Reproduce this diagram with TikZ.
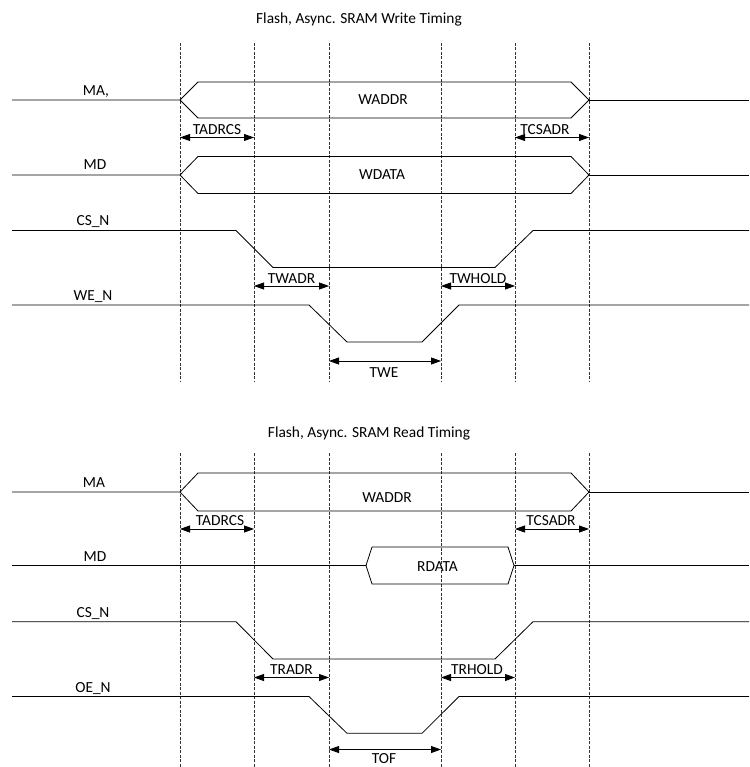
\documentclass[tikz,border=0pt]{standalone}
\usepackage{fontspec}
\setmainfont{Carlito}
\usetikzlibrary{arrows.meta}
\tikzset{
	sig/.style={line width=0.8pt},
	grid/.style={black!80, line width=0.6pt, dash pattern=on 3pt off 1.5pt},
	dim/.style={line width=0.8pt, {Triangle[length=10pt,width=7pt]}-{Triangle[length=10pt,width=7pt]}},
	lbl/.style={font=\fontsize{15.4}{18}\selectfont, inner sep=0pt, anchor=base},
}
\begin{document}
\begin{tikzpicture}[x=1pt, y=-1pt]
	\useasboundingbox (0,0) rectangle (749,767);
	% write timing
	\node[lbl] (wtitle) at (359,24) {Flash, Async. SRAM Write Timing};
	\foreach \x in {180,254,329,441,515,589}
		\draw[grid] (\x,43) -- (\x,381);
	\draw[sig] (12,100) -- (180,100) -- (198,82) -- (571,82) -- (589,100) -- (571,118) -- (198,118) -- (180,100);
	\draw[sig] (589,100) -- (749,100);
	\node[lbl] (wma) at (96,96) {MA,};
	\node[lbl] (waddr) at (383,105) {WADDR};
	\draw[dim] (180,137.5) -- (254,137.5);
	\node[lbl] (wtadrcs) at (217,134.5) {TADRCS};
	\draw[dim] (515,137.5) -- (589,137.5);
	\node[lbl] (wtcsadr) at (545,134.5) {TCSADR};
	\draw[sig] (12,175) -- (180,175) -- (198,156.5) -- (571,156.5) -- (589,175) -- (571,193.5) -- (198,193.5) -- (180,175);
	\draw[sig] (589,175) -- (749,175);
	\node[lbl] (wmd) at (95,170) {MD};
	\node[lbl] (wdata) at (382,180) {WDATA};
	\draw[sig] (12,230.5) -- (236,230.5) -- (273,267.5) -- (495,267.5) -- (533,230.5) -- (749,230.5);
	\node[lbl] (wcs) at (93,225.5) {CS\_N};
	\draw[dim] (254,286) -- (329,286);
	\node[lbl] (twadr) at (291.5,283) {TWADR};
	\draw[dim] (441,286) -- (515,286);
	\node[lbl] (twhold) at (478,283) {TWHOLD};
	\draw[sig] (12,305) -- (309,305) -- (347,342) -- (422,342) -- (459,305) -- (749,305);
	\node[lbl] (wwe) at (93,300) {WE\_N};
	\draw[dim] (329,361) -- (441,361);
	\node[lbl] (twe) at (384,377) {TWE};
	% read timing
	\node[lbl] (rtitle) at (369,437) {Flash, Async. SRAM Read Timing};
	\foreach \x in {180,254,329,441,515,589}
		\draw[grid] (\x,453) -- (\x,767);
	\draw[sig] (12,492) -- (180,492) -- (198,473) -- (571,473) -- (589,492) -- (571,511) -- (198,511) -- (180,492);
	\draw[sig] (589,492) -- (749,492);
	\node[lbl] (rma) at (94,487) {MA};
	\node[lbl] (raddr) at (387,502) {WADDR};
	\draw[dim] (180,529) -- (254,529);
	\node[lbl] (rtadrcs) at (220,525) {TADRCS};
	\draw[dim] (515,529) -- (589,529);
	\node[lbl] (rtcsadr) at (551,525) {TCSADR};
	\draw[sig] (12,565.5) -- (366,565.5) -- (372,547) -- (508,547) -- (514,565.5) -- (508,584) -- (372,584) -- (366,565.5);
	\draw[sig] (514,565.5) -- (749,565.5);
	\node[lbl] (rmd) at (95,561) {MD};
	\node[lbl] (rdata) at (437.5,571) {RDATA};
	\draw[sig] (12,621.7) -- (236,621.7) -- (273,659) -- (495,659) -- (533,621.7) -- (749,621.7);
	\node[lbl] (rcs) at (93,617) {CS\_N};
	\draw[dim] (254,677.5) -- (329,677.5);
	\node[lbl] (tradr) at (291.5,674.5) {TRADR};
	\draw[dim] (441,677.5) -- (515,677.5);
	\node[lbl] (trhold) at (477,674.5) {TRHOLD};
	\draw[sig] (12,696.5) -- (309,696.5) -- (347,733.3) -- (422,733.3) -- (459,696.5) -- (749,696.5);
	\node[lbl] (roe) at (93,692) {OE\_N};
	\draw[dim] (329,749.5) -- (441,749.5);
	\node[lbl] (tof) at (384,763.5) {TOF};
\end{tikzpicture}
\end{document}
